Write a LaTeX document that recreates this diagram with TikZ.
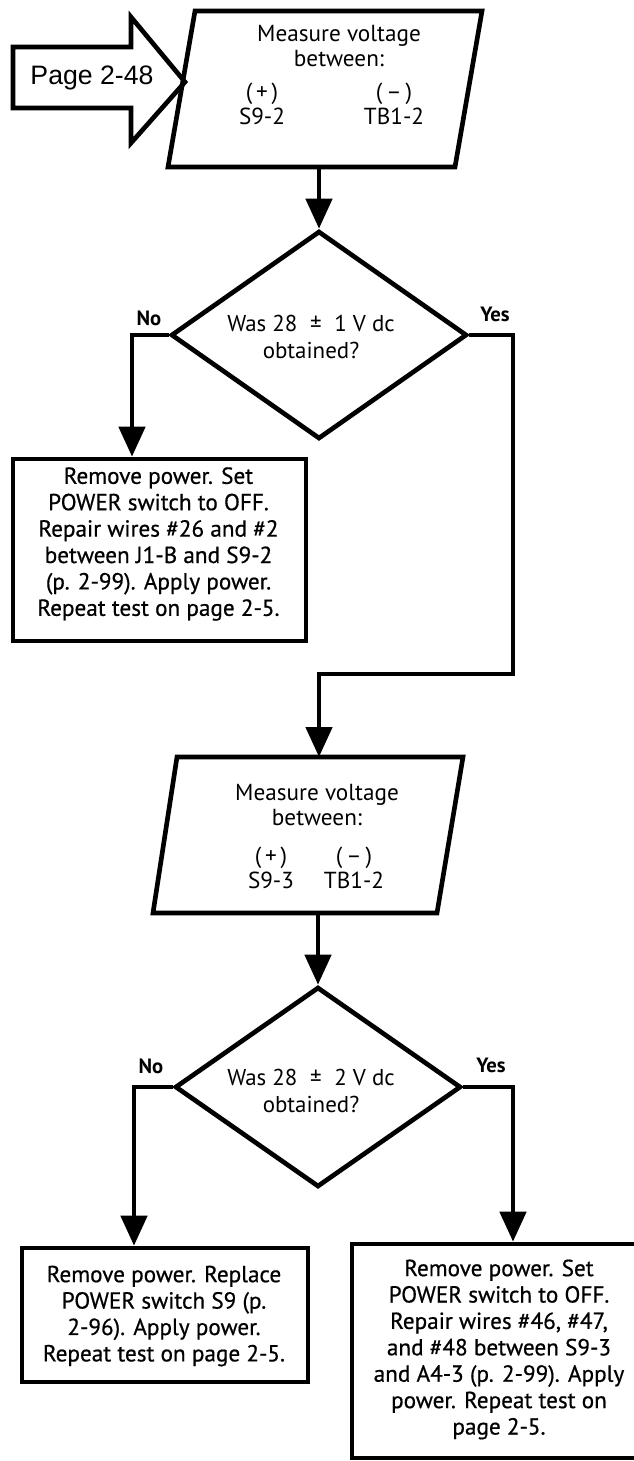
\documentclass[tikz,border=0pt]{standalone}
\usepackage{fontspec}
\setmainfont{PT Sans}
\newfontfamily\pagefont{Liberation Sans}
\newfontfamily\boxfont{PT Sans}[FakeBold=0.6]
\usetikzlibrary{arrows.meta,shapes.geometric}
\begin{document}
\begin{tikzpicture}[x=0.75pt,y=-0.75pt,
  shp/.style={draw, line width=3.5pt, line join=miter},
  conn/.style={line width=3.5pt, -{Triangle[width=19.5pt,length=22.5pt]}},
  txt/.style={font=\fontsize{17.2}{19.8}\selectfont, align=center, inner sep=0pt},
  btxt/.style={font=\boxfont\fontsize{17.4}{19.8}\selectfont, align=center, inner sep=0pt},
  ptxt/.style={font=\fontsize{17.4}{18.8}\selectfont, align=center, inner sep=0pt},
  lbl/.style={font=\fontsize{15.5}{18}\selectfont\bfseries, inner sep=0pt},
  boxnode/.style={shp, rectangle, inner sep=0pt},
  dia/.style={shp, diamond, inner sep=0pt}
]
\useasboundingbox (0,0) rectangle (634,1461);
\clip (0,0) rectangle (634,1461);

% entry arrow "Page 2-48"
\draw[shp] (13,47) -- (131,47) -- (131,17) -- (185,82) -- (131,143) -- (131,108) -- (13,108) -- cycle;
\node[inner sep=0pt, font=\pagefont\fontsize{20}{22}\selectfont] (pg) at (92,78) {Page 2-48};

% first measurement (parallelogram)
\draw[shp] (168,167) -- (195,11) -- (482,11) -- (455,167) -- cycle;
\node[ptxt] (p1t) at (339,46) {Measure voltage\\[0.6pt]between:};
\node[ptxt] (p1a) at (262,104) {(\,+\,)\\S9-2};
\node[ptxt] (p1b) at (394,104) {(\,–\,)\\TB1-2};
\coordinate (p1s) at (319,167);

% first decision
\node[dia, minimum width=222pt, minimum height=156pt] (d1) at (319,335) {};
\node[txt] (d1t) at (311,337) {Was 28\hspace{0.55em}±\hspace{0.55em}1 V dc\\obtained?};
\node[lbl] (no1) at (149,318) {No};
\node[lbl] (yes1) at (495,314) {Yes};

% first repair box
\node[boxnode, minimum width=219.75pt, minimum height=136.5pt] (b1) at (159.5,550) {};
\node[btxt] (b1t) at (158.5,544) {Remove power. Set\\POWER switch to OFF.\\Repair wires \#26 and \#2\\between J1-B and S9-2\\(p. 2-99). Apply power.\\Repeat test on page 2-5.};

% second measurement (parallelogram)
\draw[shp] (153,913) -- (177,757) -- (463,757) -- (437,913) -- cycle;
\node[ptxt] (p2t) at (317,805) {Measure voltage\\[0.6pt]between:};
\node[ptxt] (p2a) at (271,867.5) {(\,+\,)\\S9-3};
\node[ptxt] (p2b) at (354,867.5) {(\,–\,)\\TB1-2};
\coordinate (p2n) at (319,757);
\coordinate (p2s) at (318,913);

% second decision
\node[dia, minimum width=214.5pt, minimum height=150pt] (d2) at (318,1087) {};
\node[txt] (d2t) at (311,1091) {Was 28\hspace{0.55em}±\hspace{0.55em}2 V dc\\obtained?};
\node[lbl] (no2) at (151,1066) {No};
\node[lbl] (yes2) at (491,1065) {Yes};

% bottom boxes
\node[boxnode, minimum width=214.5pt, minimum height=100.5pt] (lb) at (165,1315) {};
\node[btxt] (lbt) at (164,1316) {Remove power. Replace\\POWER switch S9 (p.\\2-96). Apply power.\\Repeat test on page 2-5.};
\node[boxnode, minimum width=220.5pt, minimum height=160.5pt] (rb) at (499,1351) {};
\node[btxt] (rbt) at (499,1349.5) {Remove power. Set\\POWER switch to OFF.\\Repair wires \#46, \#47,\\and \#48 between S9-3\\and A4-3 (p. 2-99). Apply\\power. Repeat test on\\page 2-5.};

% bend points
\coordinate (noA) at (132,335);
\coordinate (yesA) at (513,335);
\coordinate (yesB) at (513,674);
\coordinate (yesC) at (319,674);
\coordinate (noB) at (134,1087);
\coordinate (yesD) at (513,1087);

% connectors
\draw[conn] (p1s) -- (d1.north);
\draw[conn] (d1.west) -- (noA) -- (noA |- b1.north);
\draw[conn] (d1.east) -- (yesA) -- (yesB) -- (yesC) -- (p2n);
\draw[conn] (p2s) -- (d2.north);
\draw[conn] (d2.west) -- (noB) -- (noB |- lb.north);
\draw[conn] (d2.east) -- (yesD) -- (yesD |- rb.north);
\end{tikzpicture}
\end{document}
